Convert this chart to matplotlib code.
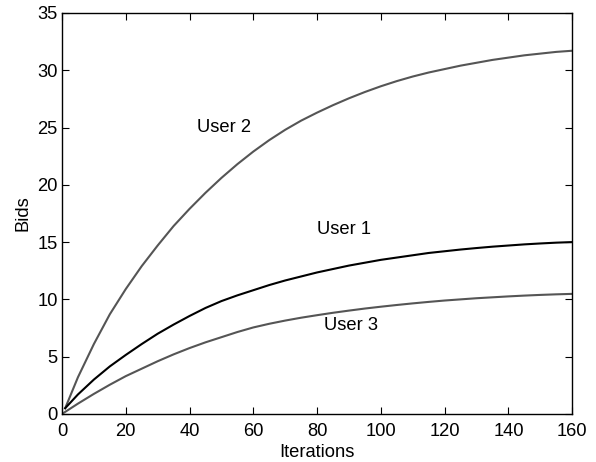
import matplotlib
matplotlib.use("Agg")
import matplotlib.pyplot as plt

plt.rcParams['font.family'] = ['Liberation Sans', 'DejaVu Sans']

# values
iters_12 = [1, 5, 10, 15, 20, 25, 30, 35, 40, 45, 50, 55, 60, 65, 70, 75, 80,
            85, 90, 95, 100, 105, 110, 115, 120, 125, 130, 135, 140, 145, 150, 155, 160]
bids_user1 = [0.5, 1.7, 3.0, 4.15, 5.15, 6.1, 7.0, 7.8, 8.55, 9.25, 9.85, 10.35, 10.8,
              11.25, 11.65, 12.0, 12.35, 12.65, 12.95, 13.2, 13.45, 13.65, 13.85, 14.05,
              14.2, 14.35, 14.48, 14.6, 14.7, 14.8, 14.88, 14.95, 15.0]
bids_user2 = [0.5, 3.2, 6.1, 8.7, 10.9, 12.9, 14.7, 16.4, 17.9, 19.3, 20.6, 21.8, 22.9,
              23.9, 24.8, 25.6, 26.3, 26.95, 27.55, 28.1, 28.6, 29.05, 29.45, 29.8,
              30.1, 30.4, 30.65, 30.9, 31.1, 31.3, 31.45, 31.6, 31.7]
iters_3 = [0, 5, 10, 15, 20, 25, 30, 35, 40, 45, 50, 55, 60, 65, 70, 75, 80,
           85, 90, 95, 100, 105, 110, 115, 120, 125, 130, 135, 140, 145, 150, 155, 160]
bids_user3 = [0.0, 0.9, 1.75, 2.55, 3.3, 3.95, 4.6, 5.2, 5.75, 6.25, 6.7, 7.15, 7.55,
              7.87, 8.15, 8.4, 8.62, 8.83, 9.02, 9.2, 9.36, 9.51, 9.65, 9.78, 9.9,
              10.0, 10.1, 10.18, 10.26, 10.33, 10.39, 10.44, 10.48]

fs = 13.2

fig = plt.figure(figsize=(5.96, 4.62), dpi=100)
ax = fig.add_axes([0.104, 0.104, 0.856, 0.868])

ax.plot(iters_12, bids_user2, color='#555555', lw=1.5)
ax.plot(iters_12, bids_user1, color='black', lw=1.5)
ax.plot(iters_3, bids_user3, color='#555555', lw=1.5)

ax.text(42.5, 25.0, 'User 2', fontsize=fs, va='center', ha='left')
ax.text(79.9, 16.1, 'User 1', fontsize=fs, va='center', ha='left')
ax.text(82.2, 7.7, 'User 3', fontsize=fs, va='center', ha='left')

ax.set_xlim(0, 160)
ax.set_ylim(0, 35)
ax.set_xticks(range(0, 161, 20))
ax.set_yticks(range(0, 36, 5))
ax.tick_params(direction='in', top=True, right=True, length=5, width=0.8,
               labelsize=fs)
ax.tick_params(axis='x', pad=6.5)
ax.tick_params(axis='y', pad=3)
for s in ax.spines.values():
    s.set_linewidth(1.0)

ax.set_xlabel('Iterations', fontsize=fs, labelpad=3)
ax.set_ylabel('Bids', fontsize=fs, labelpad=4)

fig.savefig('out.png', dpi=100)
